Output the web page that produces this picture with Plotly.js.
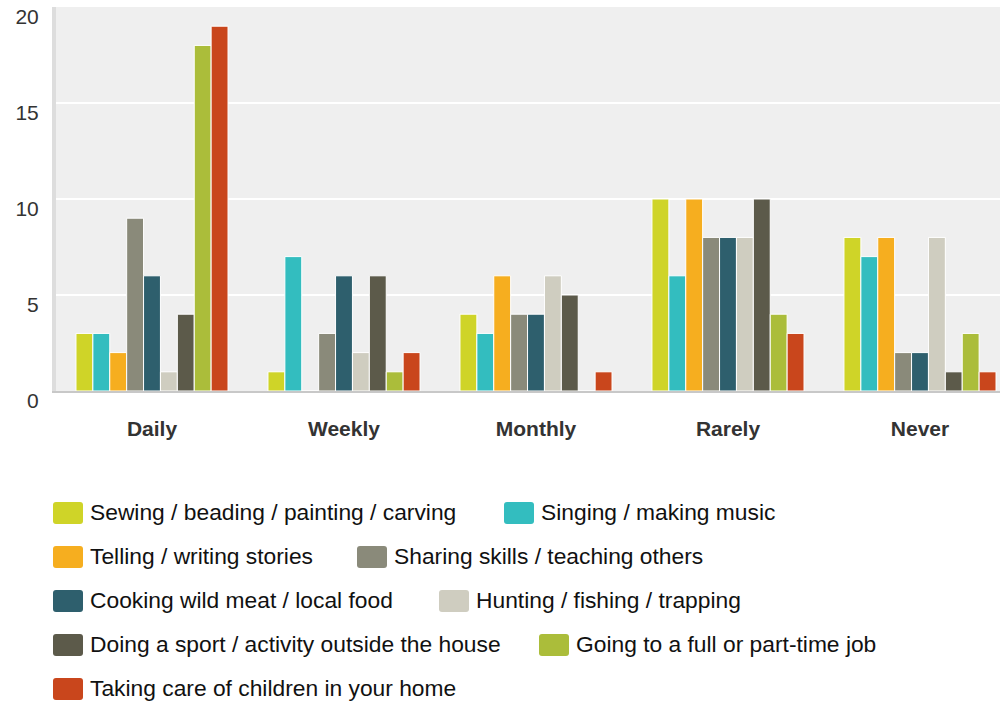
<!DOCTYPE html>
<html>
<head>
<meta charset="utf-8">
<script src="https://cdn.plot.ly/plotly-3.0.1.min.js"></script>
<style>html,body{margin:0;padding:0;background:#fff;}#chart{width:1000px;height:704px;}</style>
</head>
<body>
<div id="chart"></div>
<script>
const categories = ["Daily", "Weekly", "Monthly", "Rarely", "Never"];
const seriesNames = [
  "Sewing / beading / painting / carving",
  "Singing / making music",
  "Telling / writing stories",
  "Sharing skills / teaching others",
  "Cooking wild meat / local food",
  "Hunting / fishing / trapping",
  "Doing a sport / activity outside the house",
  "Going to a full or part-time job",
  "Taking care of children in your home"
];
const sewing   = [3, 1, 4, 10, 8];
const singing  = [3, 7, 3, 6, 7];
const telling  = [2, 0, 6, 10, 8];
const sharing  = [9, 3, 4, 8, 2];
const cooking  = [6, 6, 4, 8, 2];
const hunting  = [1, 2, 6, 8, 8];
const sport    = [4, 6, 5, 10, 1];
const job      = [18, 1, 0, 4, 3];
const children = [19, 2, 1, 3, 1];
const seriesValues = [sewing, singing, telling, sharing, cooking, hunting, sport, job, children];
const colors = ["#cfd428", "#33bdbf", "#f6ae1f", "#8a8a7a", "#2e5f6d", "#cfcdc0", "#5c5a4a", "#abbd3a", "#c9461c"];
const yTicks = [0, 5, 10, 15, 20];

const FONT = "Liberation Sans, Arial, Helvetica, sans-serif";

const traces = seriesNames.map((name, i) => ({
  type: "bar",
  name: name,
  x: categories,
  y: seriesValues[i],
  marker: {color: colors[i], line: {color: "#ffffff", width: 1}},
  showlegend: false,
  hoverinfo: "x+y+name"
}));

// Plot-area geometry (pixels) for the custom legend below the plot
const W = 1000, H = 704;
const mL = 56, mR = 0, mT = 7, mB = 313;
const pw = W - mL - mR, ph = H - mT - mB;
const px = x => (x - mL) / pw;
const py = y => (H - mB - y) / ph;

// legend layout: rows of [series index, swatch left x]
const legendRows = [
  [[0, 53], [1, 504]],
  [[2, 53], [3, 357]],
  [[4, 53], [5, 439]],
  [[6, 53], [7, 539]],
  [[8, 53]]
];
const rowY = [513, 557, 601, 645, 689];

const shapes = [];
const annotations = [];
function roundedRect(x0, y0, x1, y1, r) {
  const p = (x, y) => px(x) + "," + py(y);
  return "M" + p(x0 + r, y0) + " L" + p(x1 - r, y0) + " Q" + p(x1, y0) + " " + p(x1, y0 + r) +
    " L" + p(x1, y1 - r) + " Q" + p(x1, y1) + " " + p(x1 - r, y1) +
    " L" + p(x0 + r, y1) + " Q" + p(x0, y1) + " " + p(x0, y1 - r) +
    " L" + p(x0, y0 + r) + " Q" + p(x0, y0) + " " + p(x0 + r, y0) + " Z";
}
legendRows.forEach((row, ri) => {
  row.forEach(([si, sx]) => {
    const cy = rowY[ri];
    shapes.push({
      type: "path", xref: "paper", yref: "paper",
      path: roundedRect(sx, cy - 11, sx + 30, cy + 11, 3),
      fillcolor: colors[si], line: {width: 0}
    });
    annotations.push({
      xref: "paper", yref: "paper",
      x: px(sx + 35), y: py(cy - 1),
      xanchor: "left", yanchor: "middle",
      text: seriesNames[si], showarrow: false,
      font: {family: FONT, size: 22.8, color: "#111111"}
    });
  });
});

const layout = {
  width: W, height: H,
  margin: {l: mL, r: mR, t: mT, b: mB, pad: 0},
  paper_bgcolor: "#ffffff",
  plot_bgcolor: "#efefef",
  barmode: "group",
  bargap: 0.208,
  bargroupgap: 0,
  showlegend: false,
  font: {family: FONT, color: "#333333"},
  xaxis: {
    type: "category",
    range: [-0.5, 4.4167],
    showgrid: false,
    zeroline: false,
    showline: true,
    linecolor: "#c8c8c8",
    linewidth: 2,
    ticks: "",
    ticklabelstandoff: 18,
    tickfont: {family: FONT, size: 21, color: "#333333", weight: "bold"},
    fixedrange: true
  },
  yaxis: {
    range: [0, 20],
    tickvals: yTicks,
    ticktext: yTicks.map(String),
    showgrid: true,
    gridcolor: "#ffffff",
    gridwidth: 2,
    zeroline: false,
    showline: true,
    linecolor: "#dddddd",
    linewidth: 4,
    ticks: "",
    ticklabelstandoff: 9,
    ticklabelshift: 10,
    tickfont: {family: FONT, size: 21, color: "#333333"},
    fixedrange: true
  },
  shapes: shapes,
  annotations: annotations
};

Plotly.newPlot("chart", traces, layout, {displayModeBar: false, staticPlot: true});
</script>
</body>
</html>
